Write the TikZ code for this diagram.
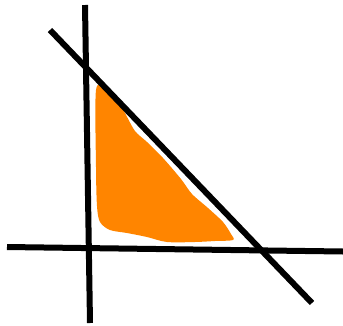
\documentclass[tikz,border=0pt]{standalone}
\usepackage{tikz}
\usetikzlibrary{calc}
\definecolor{regionorange}{RGB}{255, 133, 0}

\begin{document}
\begin{tikzpicture}[
    x=1pt, y=-1pt,
    constraint/.style={draw=black, line width=6pt},
    feasible/.style={fill=regionorange, draw=none},
]
    \useasboundingbox (0,0) rectangle (343,325);

    % Feasible region
    \fill[feasible] plot[smooth cycle, tension=0.5] coordinates {
      (96,90) (106,88) (115,95) (125,113) (135,131) (147,142)
      (163,158) (181,179) (192,194) (208,208) (223,222) (231,234)
      (233,240) (215,241) (195,242) (167,242) (147,237) (127,233)
      (110,230) (100,222) (97,206) (96,167)
    };

    % Constraint lines
    \draw[constraint] (85,5) -- (90,323);
    \draw[constraint] (7,247) -- (343,251.5);
    \draw[constraint] (50,30) -- (312,303);
\end{tikzpicture}
\end{document}
